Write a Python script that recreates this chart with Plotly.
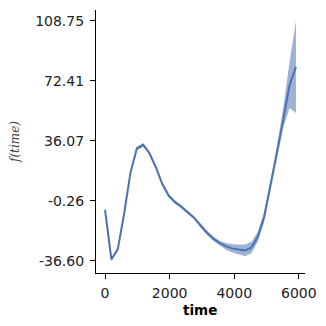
import plotly.graph_objects as go

time = [0, 197, 394, 591, 788, 985, 1182, 1379, 1576, 1773, 1970, 2167, 2364, 2561,
        2758, 2955, 3152, 3349, 3546, 3743, 3940, 4137, 4334, 4531, 4728, 4925,
        5122, 5319, 5516, 5713, 5910]
f_mean = [-5.7, -35.6, -29.5, -8.0, 17.0, 31.5, 33.7, 28.5, 20.0, 10.0, 3.0, -1.0,
          -3.8, -7.0, -10.5, -15.0, -19.5, -23.0, -25.8, -27.8, -29.0, -29.7, -30.2,
          -28.5, -22.0, -10.0, 8.5, 29.0, 49.0, 70.0, 81.0]
f_lower = [-7.2, -36.6, -30.5, -9.0, 16.0, 30.5, 32.7, 27.5, 19.0, 9.0, 2.0, -2.0,
           -4.8, -8.0, -11.5, -16.3, -20.8, -24.3, -27.3, -29.8, -31.5, -32.7, -33.7,
           -32.0, -25.0, -13.0, 5.5, 25.5, 44.0, 56.0, 53.0]
f_upper = [-4.2, -34.6, -28.5, -7.0, 18.0, 32.5, 34.7, 29.5, 21.0, 11.0, 4.0, 0.0,
           -2.8, -6.0, -9.5, -13.7, -18.2, -21.7, -24.3, -25.8, -26.5, -26.7, -26.7,
           -25.0, -19.0, -7.0, 11.5, 32.5, 56.0, 84.0, 108.75]
y_ticks = [-36.60, -0.26, 36.07, 72.41, 108.75]
y_tick_labels = ["-36.60", "-0.26", "36.07", "72.41", "108.75"]
x_ticks = [0, 2000, 4000, 6000]
x_tick_labels = ["0", "2000", "4000", "6000"]

line_color = "#4C72B0"
band_color = "rgba(76,114,176,0.55)"

fig = go.Figure()
fig.add_trace(go.Scatter(x=time, y=f_lower, mode="lines", line=dict(width=0),
                         showlegend=False, hoverinfo="skip"))
fig.add_trace(go.Scatter(x=time, y=f_upper, mode="lines", line=dict(width=0),
                         fill="tonexty", fillcolor=band_color,
                         showlegend=False, hoverinfo="skip"))
fig.add_trace(go.Scatter(x=time, y=f_mean, mode="lines",
                         line=dict(color=line_color, width=2), showlegend=False))

axis_common = dict(showgrid=False, zeroline=False, showline=True, linecolor="black",
                   linewidth=1.1, ticks="outside", ticklen=5, tickwidth=1.1,
                   tickcolor="black", automargin=False,
                   tickfont=dict(family="DejaVu Sans", size=14, color="#222"))

fig.update_xaxes(range=[-280, 6190], tickvals=x_ticks, ticktext=x_tick_labels,
                 ticklabelstandoff=2, **axis_common)
fig.update_yaxes(range=[-43.9, 115.4], tickvals=y_ticks, ticktext=y_tick_labels,
                 ticklabelstandoff=3, **axis_common)

fig.add_annotation(text="<i>f(time)</i>", xref="paper", yref="paper",
                   x=-0.3876, y=0.498, xanchor="center", yanchor="middle",
                   textangle=-90, showarrow=False,
                   font=dict(family="DejaVu Serif", size=12, color="#444"))
fig.add_annotation(text="<b>time</b>", xref="paper", yref="paper",
                   x=0.498, y=-0.1407, xanchor="center", yanchor="middle",
                   showarrow=False,
                   font=dict(family="DejaVu Sans", size=13.5, color="black"))

# page body has an 8px margin, so the figure is offset by 8px
fig.update_layout(width=318, height=318, margin=dict(l=88, r=21, t=2, b=53,
                                                     autoexpand=False),
                  plot_bgcolor="white", paper_bgcolor="white")

fig.write_html("out.html")
